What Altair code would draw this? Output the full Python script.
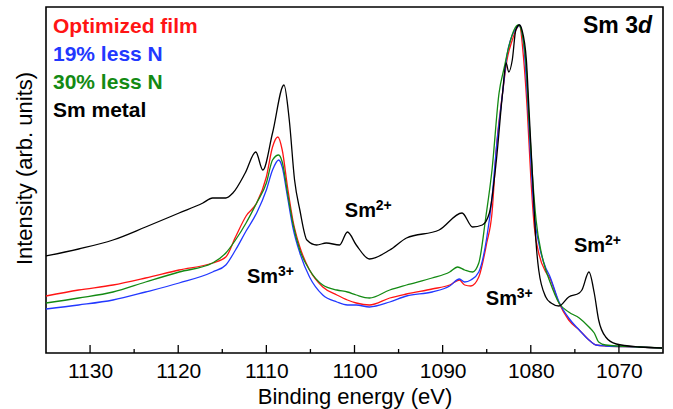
import altair as alt
import pandas as pd

FONT = "Liberation Sans, Arial, sans-serif"

# ---- data (binding energy in eV, intensity in arb. units) ----
metal_e = [1135.0,1131.3,1127.4,1123.7,1119.9,1117.2,1116.1,1114.6,1113.8,1112.4,1111.2,1110.4,1109.3,1108.0,1107.4,1106.8,1106.2,1105.4,1104.3,1103.2,1101.7,1100.8,1099.8,1098.3,1096.0,1094.1,1090.4,1087.8,1086.6,1085.5,1084.7,1083.9,1083.2,1082.8,1082.5,1082.1,1081.7,1081.3,1081.0,1080.5,1080.2,1079.8,1079.4,1079.1,1078.3,1077.7,1076.8,1075.7,1074.5,1074.2,1073.4,1072.8,1072.3,1071.5,1070.3,1067.7,1065.1]
metal_i = [97,104,113,126,140,150,155,155,160,180,201,183,220,268,233,173,143,113,108,110,108,121,108,94,103,115,123,140,126,128,140,193,260,290,281,293,323,328,323,293,243,176,110,83,56,50,47,56,60,63,81,60,33,16,9,6,5]

opt_e = [1135.0,1131.3,1127.4,1123.7,1119.9,1116.1,1114.6,1113.5,1112.3,1111.1,1110.0,1109.3,1108.7,1108.2,1107.6,1107.0,1106.2,1105.1,1103.6,1102.0,1100.8,1099.8,1098.3,1096.0,1094.1,1091.2,1089.2,1088.1,1087.5,1086.8,1085.9,1085.0,1084.4,1083.9,1083.2,1082.7,1082.1,1081.5,1081.3,1080.8,1080.4,1080.0,1079.6,1079.1,1078.3,1077.9,1076.8,1075.7,1074.5,1073.4,1072.6,1071.5,1067.7,1065.1]
opt_i = [57,63,68,75,83,90,96,116,137,150,176,206,216,203,166,133,106,83,66,58,53,50,48,55,59,64,68,73,68,67,76,110,140,205,260,293,313,326,328,293,243,176,126,100,81,76,50,33,23,13,8,7,6,5]

n19_e = [1135.0,1131.3,1127.4,1123.7,1119.9,1116.1,1114.6,1113.5,1112.3,1111.1,1110.0,1109.3,1108.6,1108.2,1107.6,1107.0,1106.2,1105.1,1103.6,1102.0,1100.8,1099.8,1098.3,1096.0,1094.1,1091.2,1089.2,1088.1,1087.5,1086.8,1085.9,1085.0,1084.4,1083.9,1083.2,1082.7,1082.1,1081.5,1081.3,1080.8,1080.4,1080.0,1079.6,1079.1,1078.3,1077.9,1076.8,1075.7,1074.5,1073.4,1072.6,1071.5,1067.7,1065.1]
n19_i = [44,48,53,61,70,81,88,103,122,140,163,183,193,186,156,126,100,76,58,51,48,48,46,51,57,61,67,74,71,73,81,115,155,205,260,298,318,326,328,308,258,193,138,110,85,78,51,35,23,13,8,7,6,5]

n30_e = [1135.0,1131.3,1127.4,1123.7,1119.9,1116.1,1114.6,1113.5,1112.3,1111.1,1110.0,1109.3,1108.6,1108.2,1107.6,1107.0,1106.2,1105.1,1103.6,1102.0,1100.8,1099.8,1098.3,1096.0,1094.1,1091.2,1089.2,1088.3,1087.5,1086.6,1085.9,1085.1,1084.4,1083.6,1083.0,1082.5,1081.9,1081.4,1081.0,1080.5,1080.2,1079.8,1079.4,1078.8,1078.3,1077.9,1076.8,1075.7,1074.5,1073.4,1072.8,1072.3,1071.5,1067.7,1065.1]
n30_i = [50,55,61,71,81,90,100,113,130,150,170,193,198,191,160,130,103,83,68,63,61,58,55,63,68,75,81,86,83,81,90,136,183,260,286,306,323,328,320,283,233,176,133,100,83,73,50,41,35,26,20,11,8,6,5]

series_names = ["Optimized film", "19% less N", "30% less N", "Sm metal"]
series_colors = ["#ff1414", "#2238ff", "#138a13", "#000000"]

major_ticks = [1070, 1080, 1090, 1100, 1110, 1120, 1130]
minor_ticks = [1075, 1085, 1095, 1105, 1115, 1125]

ann_e = [1112.2, 1101.1, 1085.1, 1075.1]
ann_i = [70, 136, 48, 101]
ann_base = ["Sm", "Sm", "Sm", "Sm"]
ann_sup = ["3+", "2+", "3+", "2+"]

W, H = 617, 346

xscale = alt.Scale(domain=[1065, 1135], reverse=True, nice=False, zero=False)
yscale = alt.Scale(domain=[0, 346], nice=False, zero=False)

xaxis = alt.Axis(values=major_ticks, format="d", ticks=False, tickSize=0, grid=False,
                 labelFontSize=21, labelPadding=7, labelColor="black", labelFont=FONT,
                 title="Binding energy (eV)", titleFontSize=22, titleFontWeight="normal",
                 titleFont=FONT, titleColor="black", titleBaseline="alphabetic", titleY=50,
                 domain=False)
yaxis = alt.Axis(labels=False, ticks=False, grid=False, domain=False,
                 title="Intensity (arb. units)", titleFontSize=22, titleFontWeight="normal",
                 titleFont=FONT, titleColor="black", titleBaseline="alphabetic",
                 titleX=-15, titleY=161)


def line(e, i, color):
    df = pd.DataFrame({"E": e, "I": i})
    return alt.Chart(df).mark_line(color=color, strokeWidth=1.3, interpolate="monotone").encode(
        x=alt.X("E:Q", scale=xscale, axis=xaxis),
        y=alt.Y("I:Q", scale=yscale, axis=yaxis),
    )


lines = [
    line(opt_e, opt_i, series_colors[0]),
    line(n19_e, n19_i, series_colors[1]),
    line(n30_e, n30_i, series_colors[2]),
    line(metal_e, metal_i, series_colors[3]),
]

ticks_major = alt.Chart(pd.DataFrame({"E": major_ticks})).mark_rule(color="black", strokeWidth=1.3).encode(
    x=alt.X("E:Q", scale=xscale), y=alt.value(H), y2=alt.value(H - 8))
ticks_minor = alt.Chart(pd.DataFrame({"E": minor_ticks})).mark_rule(color="black", strokeWidth=1.3).encode(
    x=alt.X("E:Q", scale=xscale), y=alt.value(H), y2=alt.value(H - 4))

ann_df = pd.DataFrame({"E": ann_e, "I": ann_i, "base": ann_base, "sup": ann_sup})
ann_main = alt.Chart(ann_df).mark_text(align="left", baseline="alphabetic", fontSize=20,
                                      fontWeight="bold", font=FONT, color="black").encode(
    x=alt.X("E:Q", scale=xscale), y=alt.Y("I:Q", scale=yscale), text="base:N")
ann_sup_layer = alt.Chart(ann_df).mark_text(align="left", baseline="alphabetic", fontSize=14,
                                           fontWeight="bold", font=FONT, color="black",
                                           dx=31, dy=-7).encode(
    x=alt.X("E:Q", scale=xscale), y=alt.Y("I:Q", scale=yscale), text="sup:N")

one = pd.DataFrame({"a": [0]})
legend_layers = []
for k, (name, col) in enumerate(zip(series_names, series_colors)):
    legend_layers.append(
        alt.Chart(one).mark_text(align="left", baseline="alphabetic", fontSize=21,
                                 fontWeight="bold", font=FONT, color=col).encode(
            x=alt.value(7), y=alt.value(26 + 28 * k), text=alt.value(name)))

title_a = alt.Chart(one).mark_text(align="right", baseline="alphabetic", fontSize=23,
                                   fontWeight="bold", font=FONT, color="black").encode(
    x=alt.value(592), y=alt.value(26), text=alt.value("Sm 3"))
title_b = alt.Chart(one).mark_text(align="right", baseline="alphabetic", fontSize=23,
                                   fontWeight="bold", fontStyle="italic", font=FONT,
                                   color="black").encode(
    x=alt.value(606), y=alt.value(26), text=alt.value("d"))

chart = alt.layer(
    *lines, ticks_major, ticks_minor, ann_main, ann_sup_layer, *legend_layers, title_a, title_b
).properties(
    width=W, height=H,
    padding={"left": 46, "top": 7, "right": 10, "bottom": 56},
    autosize=alt.AutoSizeParams(type="none"),
    background="white",
).configure_view(stroke="black", strokeWidth=1.6)

chart.save("out.html", embed_options={"renderer": "svg", "actions": False})
